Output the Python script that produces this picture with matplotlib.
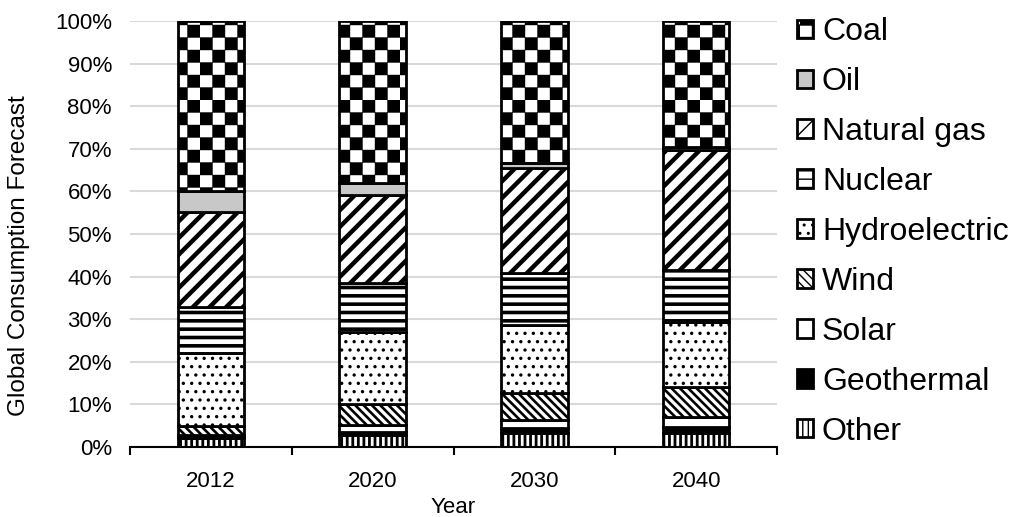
import matplotlib
matplotlib.use('Agg')
import matplotlib.pyplot as plt
import matplotlib.hatch as mhatch
from matplotlib.path import Path

years = ['2012', '2020', '2030', '2040']

# share of global consumption, percent (bottom to top of each bar)
other = [2.0, 2.8, 3.4, 3.4]
geothermal = [0.6, 0.7, 1.0, 1.3]
solar = [0.2, 1.7, 2.0, 2.3]
wind = [2.2, 5.0, 6.2, 7.2]
hydro = [17.0, 16.9, 16.0, 15.2]
nuclear = [10.9, 11.3, 12.2, 12.1]
gas = [22.3, 20.8, 24.6, 28.2]
oil = [5.0, 2.7, 1.2, 0.8]
coal = [39.8, 38.1, 33.4, 29.5]


class CheckerHatch(mhatch.HatchPatternBase):
    # filled checkerboard, used in place of the 'O' pattern
    def __init__(self, hatch, density):
        self.n = 8 if 'O' in hatch else 0
        self.num_vertices = (self.n * self.n // 2) * 5

    def set_vertices_and_codes(self, vertices, codes):
        s = 1.0 / self.n
        i = 0
        for r in range(self.n):
            for c in range(self.n):
                if (r + c) % 2:
                    continue
                x0, y0 = c * s, r * s
                vertices[i:i + 5] = [(x0, y0), (x0 + s, y0), (x0 + s, y0 + s),
                                     (x0, y0 + s), (x0, y0)]
                codes[i:i + 5] = [Path.MOVETO, Path.LINETO, Path.LINETO,
                                  Path.LINETO, Path.CLOSEPOLY]
                i += 5


mhatch._hatch_types[mhatch._hatch_types.index(mhatch.LargeCircles)] = CheckerHatch


def set_hatch_lw(patch, lw):
    if hasattr(patch, 'set_hatch_linewidth'):
        patch.set_hatch_linewidth(lw)
    else:
        orig = patch.draw

        def draw(renderer, orig=orig):
            with plt.rc_context({'hatch.linewidth': lw}):
                orig(renderer)
        patch.draw = draw


plt.rcParams['font.family'] = ['Liberation Sans', 'DejaVu Sans']

series = [
    ('Other', other, 'white', '|||', 2.0),
    ('Geothermal', geothermal, 'black', None, 1.0),
    ('Solar', solar, 'white', None, 1.0),
    ('Wind', wind, 'white', '\\\\\\\\', 1.9),
    ('Hydroelectric', hydro, 'white', '..', 1.2),
    ('Nuclear', nuclear, 'white', '--', 2.6),
    ('Natural gas', gas, 'white', '//', 3.2),
    ('Oil', oil, '#c8c8c8', None, 1.0),
    ('Coal', coal, 'white', 'O', 0.3),
]

fig = plt.figure(figsize=(10.13, 5.17), dpi=100)
ax = fig.add_axes([130 / 1013, 70 / 517, 647 / 1013, 426 / 517])

x = list(range(len(years)))
bottom = [0.0] * len(years)
handles = []
for name, vals, color, hatch, hlw in series:
    bars = ax.bar(x, vals, 0.41, bottom=bottom, color=color, edgecolor='black',
                  linewidth=2, hatch=hatch, label=name, zorder=3)
    for b in bars:
        set_hatch_lw(b, hlw)
    handles.append(bars)
    bottom = [b + v for b, v in zip(bottom, vals)]

ax.set_xlim(-0.5, len(years) - 0.5)
ax.set_ylim(0, 100)
ax.set_yticks(range(0, 101, 10))
ax.set_yticklabels([f'{v}%' for v in range(0, 101, 10)])
ax.set_xticks(x)
ax.set_xticklabels(years)
ax.set_xticks([i - 0.5 for i in range(len(years) + 1)], minor=True)

ax.grid(axis='y', color='#d9d9d9', linewidth=1.5, zorder=0)
ax.set_axisbelow(True)
for s in ['left', 'right', 'top']:
    ax.spines[s].set_visible(False)
ax.spines['bottom'].set_linewidth(1.5)
ax.spines['bottom'].set_zorder(4)

ax.tick_params(axis='y', length=0, pad=13, labelsize=16)
ax.tick_params(axis='x', which='major', length=0, pad=17, labelsize=16)
ax.tick_params(axis='x', which='minor', length=6, width=1.5, direction='out')

ax.set_xlabel('Year', fontsize=16, labelpad=4)
ax.set_ylabel('Global Consumption Forecast', fontsize=17.5)
ax.yaxis.set_label_coords(-0.155, 0.45)

ax.legend(handles[::-1], [s[0] for s in series][::-1], loc='upper left',
          bbox_to_anchor=(797 / 1013, 1 - 17 / 517), bbox_transform=fig.transFigure,
          frameon=False, fontsize=23, borderpad=0, borderaxespad=0,
          handlelength=0.5, handleheight=0.5, handletextpad=0.28, labelspacing=0.625)

fig.savefig('out.png', dpi=100)
